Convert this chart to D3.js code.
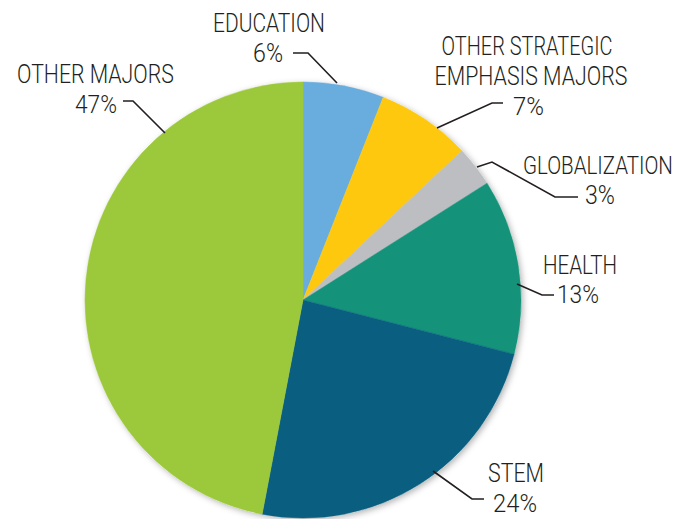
<!DOCTYPE html>
<html><head><meta charset="utf-8">
<script src="https://cdn.jsdelivr.net/npm/d3@7"></script>
<style>
html,body{margin:0;padding:0;background:#fff;}
text{font-family:"Roboto","Liberation Sans Narrow","Liberation Sans",sans-serif;fill:#231f20;font-weight:300;}
</style></head>
<body><svg id="chart" width="680" height="519"></svg>
<script>
const categories = ["EDUCATION","OTHER STRATEGIC EMPHASIS MAJORS","GLOBALIZATION","HEALTH","STEM","OTHER MAJORS"];
const values = [6, 7, 3, 13, 24, 47];
const valueLabels = ["6%","7%","3%","13%","24%","47%"];
const colors = ["#69addf","#fec80f","#bcbec1","#14937a","#0a5f80","#9cc93c"];

// layout for labels (lines of text, anchor, positions) and leader lines
const labelLayout = [
  {lines:[{t:"EDUCATION",x:269,y:32,a:"middle",w:112},{t:"6%",x:283,y:62,a:"end",w:30}],
   leader:[[293,53],[308,53],[337,83]]},
  {lines:[{t:"OTHER STRATEGIC",x:527,y:55,a:"middle",w:171},{t:"EMPHASIS MAJORS",x:531,y:85,a:"middle",w:193},{t:"7%",x:513,y:115,a:"start",w:31}],
   leader:[[503,103],[492,103],[437,128]]},
  {lines:[{t:"GLOBALIZATION",x:523,y:174,a:"start",w:150},{t:"3%",x:585,y:204,a:"start",w:30}],
   leader:[[477,167],[492,162],[555,197],[578,197]]},
  {lines:[{t:"HEALTH",x:543,y:274,a:"start",w:74},{t:"13%",x:557,y:303,a:"start",w:42}],
   leader:[[517,284],[542,295],[554,295]]},
  {lines:[{t:"STEM",x:488,y:482,a:"start",w:56},{t:"24%",x:493,y:512,a:"start",w:44}],
   leader:[[433,471],[472,499],[484,499]]},
  {lines:[{t:"OTHER MAJORS",x:17,y:83,a:"start",w:157},{t:"47%",x:75,y:113,a:"start",w:42}],
   leader:[[123,101],[133,101],[165,133]]}
];

const svg = d3.select("#chart");
const cx = 303, cy = 300, r = 218;

const defs = svg.append("defs");
const f = defs.append("filter").attr("id","sh").attr("x","-10%").attr("y","-10%").attr("width","120%").attr("height","120%");
f.append("feDropShadow").attr("dx",2).attr("dy",2).attr("stdDeviation",3).attr("flood-color","#000").attr("flood-opacity",0.3);

const pie = d3.pie().sort(null).value(d=>d.v);
const data = categories.map((c,i)=>({c, v:values[i], col:colors[i]}));
const arcs = pie(data);
const arc = d3.arc().innerRadius(0).outerRadius(r);

const g = svg.append("g").attr("transform",`translate(${cx},${cy})`);
g.append("circle").attr("r",r).attr("fill","#fff").attr("filter","url(#sh)");
g.selectAll("path.slice").data(arcs).join("path")
  .attr("class","slice")
  .attr("d",arc)
  .attr("fill",d=>d.data.col)
  .attr("stroke",d=>d.data.col).attr("stroke-width",0.5);

const line = d3.line();
labelLayout.forEach((L,i)=>{
  svg.append("path").attr("d",line(L.leader)).attr("fill","none").attr("stroke","#231f20").attr("stroke-width",1.6);
  L.lines.forEach((ln,j)=>{
    const txt = j===L.lines.length-1 ? valueLabels[i] : ln.t;
    const t = svg.append("text").attr("x",0).attr("y",0).attr("text-anchor",ln.a)
      .attr("font-size",26.5)
      .text(txt);
    const len = t.node().getComputedTextLength() || ln.w;
    const sx = ln.w / len;
    t.attr("transform",`translate(${ln.x},${ln.y}) scale(${sx},1)`);
  });
});
</script></body></html>
